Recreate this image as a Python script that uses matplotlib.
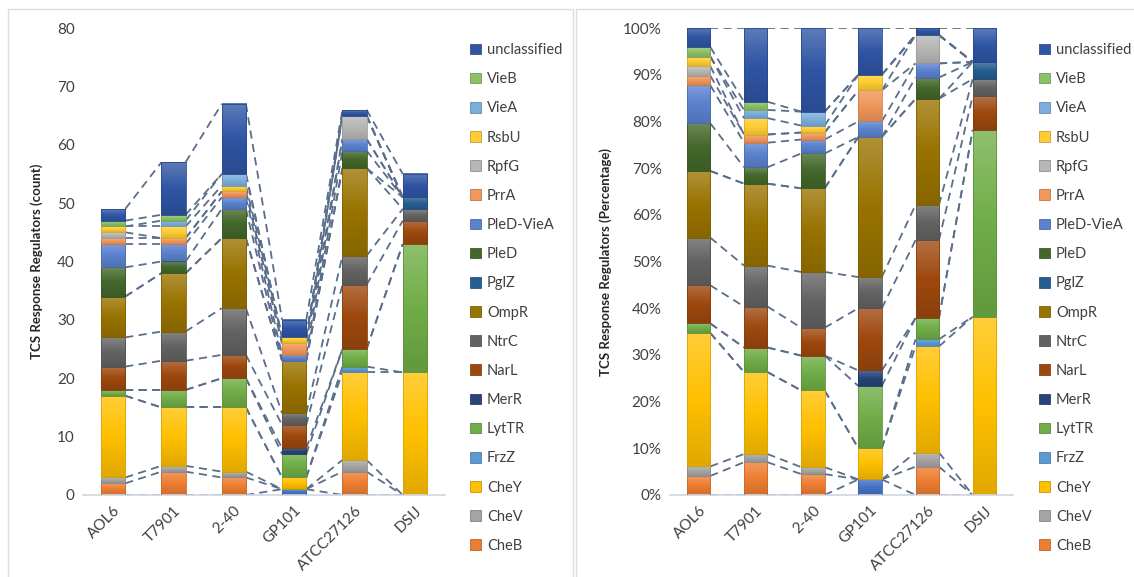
import numpy as np
import matplotlib.pyplot as plt
from matplotlib.patches import Rectangle
from matplotlib.colors import to_rgb, LinearSegmentedColormap
from matplotlib.ticker import PercentFormatter

plt.rcParams['font.family'] = ['Lato', 'DejaVu Sans']

# strains
strains = ["AOL6", "T7901", "2-40", "GP101", "ATCC27126", "DSIJ"]

# regulator counts per strain (stacked bottom to top)
base_extra = [0, 0, 0, 1, 0, 0]
CheB = [2, 4, 3, 0, 4, 0]
CheV = [1, 1, 1, 0, 2, 0]
CheY = [14, 10, 11, 2, 15, 21]
FrzZ = [0, 0, 0, 0, 1, 0]
LytTR = [1, 3, 5, 4, 3, 22]
MerR = [0, 0, 0, 1, 0, 0]
NarL = [4, 5, 4, 4, 11, 4]
NtrC = [5, 5, 8, 2, 5, 2]
OmpR = [7, 10, 12, 9, 15, 0]
PglZ = [0, 0, 0, 0, 0, 2]
PleD = [5, 2, 5, 0, 3, 0]
PleD_VieA = [4, 3, 2, 1, 2, 0]
PrrA = [1, 1, 1, 2, 0, 0]
RpfG = [1, 0, 0, 0, 4, 0]
RsbU = [1, 2, 1, 1, 0, 0]
VieA = [0, 1, 2, 0, 0, 0]
VieB = [1, 1, 0, 0, 0, 0]
unclassified = [2, 9, 12, 3, 1, 4]

series = [
    (None, base_extra, "#4472C4"),
    ("CheB", CheB, "#ED7D31"),
    ("CheV", CheV, "#A5A5A5"),
    ("CheY", CheY, "#FFC000"),
    ("FrzZ", FrzZ, "#5B9BD5"),
    ("LytTR", LytTR, "#70AD47"),
    ("MerR", MerR, "#264478"),
    ("NarL", NarL, "#9E480E"),
    ("NtrC", NtrC, "#636363"),
    ("OmpR", OmpR, "#997300"),
    ("PglZ", PglZ, "#255E91"),
    ("PleD", PleD, "#43682B"),
    ("PleD-VieA", PleD_VieA, "#5B82CF"),
    ("PrrA", PrrA, "#F1975A"),
    ("RpfG", RpfG, "#B7B7B7"),
    ("RsbU", RsbU, "#FFCD33"),
    ("VieA", VieA, "#7CAFDD"),
    ("VieB", VieB, "#8CC168"),
    ("unclassified", unclassified, "#2F55A4"),
]

text_col = "#404040"
line_col = "#5A6E8C"


def shade(c, f):
    r = np.array(to_rgb(c))
    if f > 0:
        return tuple(r + (1 - r) * f)
    return tuple(r * (1 + f))


def draw_panel(ax, width, ylim):
    x = np.arange(len(strains))
    bottom = np.zeros(len(strains))
    tops = []
    handles = []
    for name, vals, col in series:
        vals = np.asarray(vals, dtype=float)
        cmap = LinearSegmentedColormap.from_list(
            "g", [shade(col, -0.12), col, shade(col, 0.22)])
        grad = np.linspace(0, 1, 64).reshape(-1, 1)
        for i in range(len(x)):
            if vals[i] <= 0:
                continue
            y0, y1 = bottom[i], bottom[i] + vals[i]
            ax.imshow(grad, cmap=cmap, origin="lower", aspect="auto",
                      extent=(x[i] - width / 2, x[i] + width / 2, y0, y1),
                      interpolation="bilinear", zorder=2)
            ax.add_patch(Rectangle((x[i] - width / 2, y0), width, y1 - y0,
                                   fill=False, lw=0.6, ec=shade(col, -0.15), zorder=3))
        bottom = bottom + vals
        tops.append(bottom.copy())
        if name is not None:
            handles.append(Rectangle((0, 0), 1, 1, fc=col, ec=shade(col, -0.3), lw=0.5, label=name))
    # series lines between neighbouring bars
    for t in tops:
        for i in range(len(x) - 1):
            ax.plot([x[i] + width / 2, x[i + 1] - width / 2], [t[i], t[i + 1]],
                    color=line_col, lw=1.3, ls=(0, (4.5, 3)), zorder=1)
    ax.set_xlim(-0.5, len(x) - 0.5)
    ax.set_ylim(*ylim)
    ax.set_xticks(x)
    ax.set_xticklabels(strains, rotation=45, ha="right", rotation_mode="anchor",
                       fontsize=11, color=text_col)
    ax.tick_params(axis="both", length=0, pad=6, labelsize=11, labelcolor=text_col)
    for s in ["top", "right", "left"]:
        ax.spines[s].set_visible(False)
    ax.spines["bottom"].set_color("#D0D7E2")
    ax.spines["bottom"].set_linewidth(1.2)
    return handles


fig = plt.figure(figsize=(11.34, 5.77), dpi=100)

# panel frames
fig.add_artist(Rectangle((8 / 1134, -0.01), 565 / 1134, 1.01 - 9 / 577,
                         transform=fig.transFigure, fill=False, ec="#D9DEE6", lw=1))
fig.add_artist(Rectangle((576 / 1134, -0.01), 560 / 1134, 1.01 - 9 / 577,
                         transform=fig.transFigure, fill=False, ec="#D9DEE6", lw=1))

ax1 = fig.add_axes([83 / 1134, 82 / 577, 362 / 1134, 467 / 577])
h = draw_panel(ax1, 0.4, (0, 80))
ax1.set_yticks(range(0, 81, 10))
ax1.set_ylabel("TCS Response Regulators (count)", fontsize=9.5, fontweight="bold",
               color="#262626", labelpad=10)

# percentage panel: each strain normalised to its total
totals = np.sum([np.asarray(v, dtype=float) for _, v, _ in series], axis=0)
orig = list(series)
series = [(n, list(np.asarray(v) / totals), c) for n, v, c in orig]
ax2 = fig.add_axes([670 / 1134, 82 / 577, 343 / 1134, 467 / 577])
draw_panel(ax2, 0.41, (0, 1))
ax2.set_yticks(np.arange(0, 1.01, 0.1))
ax2.yaxis.set_major_formatter(PercentFormatter(1.0, decimals=0))
ax2.set_ylabel("TCS Response Regulators (Percentage)", fontsize=9.5, fontweight="bold",
               color="#262626", labelpad=8)

for xa in [463 / 1134, 1032 / 1134]:
    leg = fig.legend(handles=h[::-1], loc="upper left", bbox_to_anchor=(xa, 0.938),
                     frameon=False, fontsize=10.5, handlelength=0.75, handleheight=0.75,
                     handletextpad=0.4, labelspacing=1.04, borderpad=0)
    for t in leg.get_texts():
        t.set_color(text_col)

fig.savefig("out.png", dpi=100)
